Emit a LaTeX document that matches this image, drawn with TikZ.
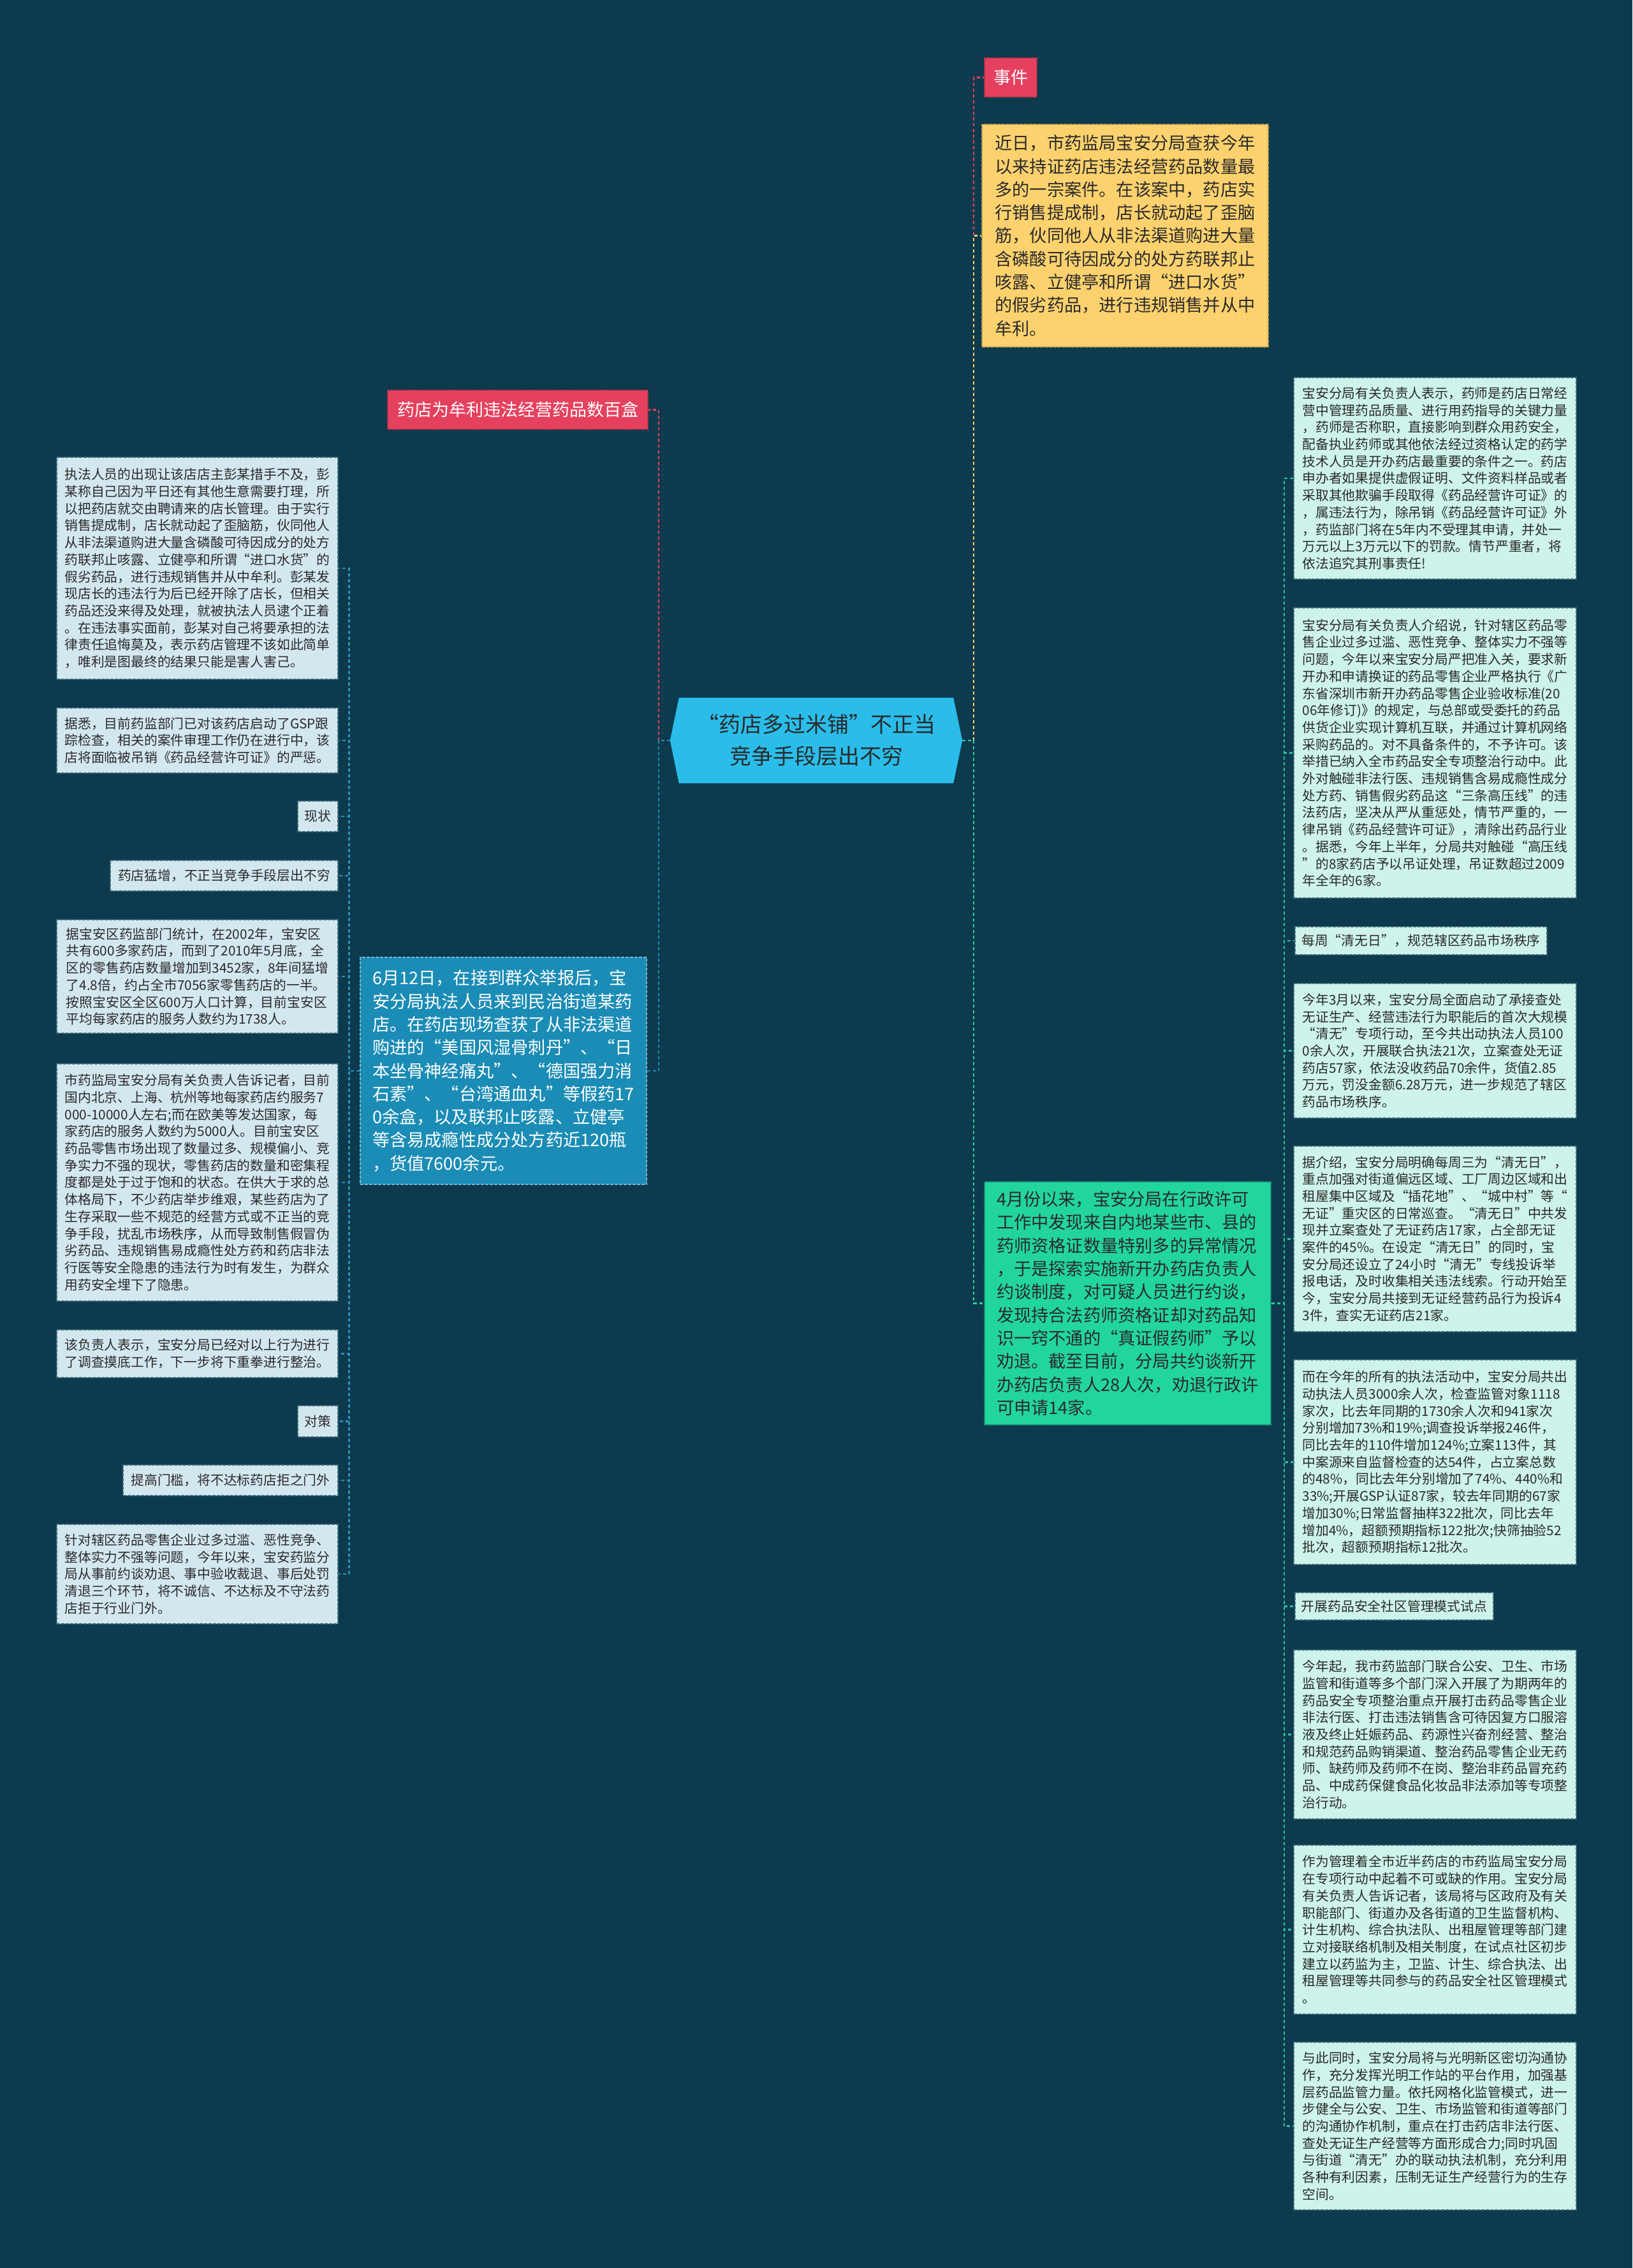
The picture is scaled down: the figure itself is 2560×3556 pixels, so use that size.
\documentclass[tikz,border=0pt]{standalone}
\usepackage{fontspec}
\setmainfont{Noto Sans CJK SC}
\usetikzlibrary{backgrounds}
\definecolor{bgc}{HTML}{0E3A4E}
\definecolor{txt}{HTML}{2A2A2A}
\definecolor{lfill}{HTML}{D3E7EF}
\definecolor{rfill}{HTML}{CDF3EA}
\definecolor{bord}{HTML}{3E6E7E}
\definecolor{redt}{HTML}{E5415E}
\definecolor{yel}{HTML}{FDD26E}
\definecolor{blu}{HTML}{1B8CB5}
\definecolor{grn}{HTML}{22D49E}
\definecolor{cen}{HTML}{2ABDEA}
\definecolor{lconn}{HTML}{2A93B8}
\definecolor{rconn}{HTML}{25C79A}
\tikzset{
  conn/.style={line width=2.5pt, dash pattern=on 5pt off 4pt},
  sbox/.style={draw=bord, line width=1.5pt, dash pattern=on 5pt off 2pt, text=txt,
     font=\fontsize{20.8}{26.7}\selectfont, align=left, inner sep=0pt},
  lbox/.style={sbox, fill=lfill},
  rbox/.style={sbox, fill=rfill},
  bigbox/.style={line width=1.5pt, dash pattern=on 5pt off 2pt,
     font=\fontsize{27.2}{36.3}\selectfont, align=left, inner sep=0pt},
  tag/.style={fill=redt, draw=redt!80!black, line width=1.5pt, dash pattern=on 5pt off 2pt,
     text=white, font=\fontsize{27}{32}\selectfont, inner sep=0pt},
}
\begin{document}
\begin{tikzpicture}[x=1pt,y=-1pt]
\begin{scope}[on background layer]
\fill[bgc] (0,0) rectangle (2560,3556);
\end{scope}
\useasboundingbox (0,0) rectangle (2560,3556);

% center
\node[text=txt, font=\fontsize{34}{50}\selectfont, align=center, minimum width=458, minimum height=134, inner sep=0pt] (C) at (1280,1161) {“药店多过米铺”不正当\\竞争手段层出不穷};
\begin{scope}[on background layer]
\fill[cen] (C.west) -- ([xshift=14]C.north west) -- ([xshift=-14]C.north east) -- (C.east) -- ([xshift=-14]C.south east) -- ([xshift=14]C.south west) -- cycle;
\end{scope}

% right main
\node[tag, minimum width=82, minimum height=61] (E) at (1585,121.5) {事件};
\node[bigbox, draw=yel!75!black, fill=yel, text=txt, minimum width=449, minimum height=349] (Y) at (1764.5,369.5) {近日，市药监局宝安分局查获今年\\以来持证药店违法经营药品数量最\\多的一宗案件。在该案中，药店实\\行销售提成制，店长就动起了歪脑\\筋，伙同他人从非法渠道购进大量\\含磷酸可待因成分的处方药联邦止\\咳露、立健亭和所谓“进口水货”\\的假劣药品，进行违规销售并从中\\牟利。};
\node[bigbox, draw=grn!70!black, fill=grn, text=txt, minimum width=449, minimum height=381] (G) at (1768.5,2043.5) {4月份以来，宝安分局在行政许可\\工作中发现来自内地某些市、县的\\药师资格证数量特别多的异常情况\\，于是探索实施新开办药店负责人\\约谈制度，对可疑人员进行约谈，\\发现持合法药师资格证却对药品知\\识一窍不通的“真证假药师”予以\\劝退。截至目前，分局共约谈新开\\办药店负责人28人次，劝退行政许\\可申请14家。};

% left main
\node[tag, minimum width=408, minimum height=61] (T) at (812,642.5) {药店为牟利违法经营药品数百盒};
\node[bigbox, draw=blu!60!white, fill=blu, text=white, minimum width=449, minimum height=356] (B) at (789.5,1679) {6月12日，在接到群众举报后，宝\\安分局执法人员来到民治街道某药\\店。在药店现场查获了从非法渠道\\购进的“美国风湿骨刺丹”、“日\\本坐骨神经痛丸”、“德国强力消\\石素”、“台湾通血丸”等假药17\\0余盒，以及联邦止咳露、立健亭\\等含易成瘾性成分处方药近120瓶\\，货值7600余元。};

% left column
\node[lbox, minimum width=441, minimum height=348] (L1) at (309.5,891) {执法人员的出现让该店店主彭某措手不及，彭\\某称自己因为平日还有其他生意需要打理，所\\以把药店就交由聘请来的店长管理。由于实行\\销售提成制，店长就动起了歪脑筋，伙同他人\\从非法渠道购进大量含磷酸可待因成分的处方\\药联邦止咳露、立健亭和所谓“进口水货”的\\假劣药品，进行违规销售并从中牟利。彭某发\\现店长的违法行为后已经开除了店长，但相关\\药品还没来得及处理，就被执法人员逮个正着\\。在违法事实面前，彭某对自己将要承担的法\\律责任追悔莫及，表示药店管理不该如此简单\\，唯利是图最终的结果只能是害人害己。};
\node[lbox, minimum width=441, minimum height=102] (L2) at (309.5,1161) {据悉，目前药监部门已对该药店启动了GSP跟\\踪检查，相关的案件审理工作仍在进行中，该\\店将面临被吊销《药品经营许可证》的严惩。};
\node[lbox, minimum width=63, minimum height=48] (L3) at (498.5,1280) {现状};
\node[lbox, minimum width=357, minimum height=48] (L4) at (351.5,1373) {药店猛增，不正当竞争手段层出不穷};
\node[lbox, minimum width=441, minimum height=178] (L5) at (309.5,1531) {据宝安区药监部门统计，在2002年，宝安区\\共有600多家药店，而到了2010年5月底，全\\区的零售药店数量增加到3452家，8年间猛增\\了4.8倍，约占全市7056家零售药店的一半。\\按照宝安区全区600万人口计算，目前宝安区\\平均每家药店的服务人数约为1738人。};
\node[lbox, minimum width=441, minimum height=372] (L6) at (309.5,1854) {市药监局宝安分局有关负责人告诉记者，目前\\国内北京、上海、杭州等地每家药店约服务7\\000-10000人左右;而在欧美等发达国家，每\\家药店的服务人数约为5000人。目前宝安区\\药品零售市场出现了数量过多、规模偏小、竞\\争实力不强的现状，零售药店的数量和密集程\\度都是处于过于饱和的状态。在供大于求的总\\体格局下，不少药店举步维艰，某些药店为了\\生存采取一些不规范的经营方式或不正当的竞\\争手段，扰乱市场秩序，从而导致制售假冒伪\\劣药品、违规销售易成瘾性处方药和药店非法\\行医等安全隐患的违法行为时有发生，为群众\\用药安全埋下了隐患。};
\node[lbox, minimum width=441, minimum height=75] (L7) at (309.5,2122.5) {该负责人表示，宝安分局已经对以上行为进行\\了调查摸底工作，下一步将下重拳进行整治。};
\node[lbox, minimum width=63, minimum height=49] (L8) at (498.5,2228.5) {对策};
\node[lbox, minimum width=337, minimum height=48] (L9) at (361.5,2321) {提高门槛，将不达标药店拒之门外};
\node[lbox, minimum width=441, minimum height=156] (L10) at (309.5,2468) {针对辖区药品零售企业过多过滥、恶性竞争、\\整体实力不强等问题，今年以来，宝安药监分\\局从事前约谈劝退、事中验收裁退、事后处罚\\清退三个环节，将不诚信、不达标及不守法药\\店拒于行业门外。};

% right column
\node[rbox, minimum width=443, minimum height=316] (R1) at (2250.5,750) {宝安分局有关负责人表示，药师是药店日常经\\营中管理药品质量、进行用药指导的关键力量\\，药师是否称职，直接影响到群众用药安全，\\配备执业药师或其他依法经过资格认定的药学\\技术人员是开办药店最重要的条件之一。药店\\申办者如果提供虚假证明、文件资料样品或者\\采取其他欺骗手段取得《药品经营许可证》的\\，属违法行为，除吊销《药品经营许可证》外\\，药监部门将在5年内不受理其申请，并处一\\万元以上3万元以下的罚款。情节严重者，将\\依法追究其刑事责任!};
\node[rbox, minimum width=443, minimum height=455] (R2) at (2250.5,1180.5) {宝安分局有关负责人介绍说，针对辖区药品零\\售企业过多过滥、恶性竞争、整体实力不强等\\问题，今年以来宝安分局严把准入关，要求新\\开办和申请换证的药品零售企业严格执行《广\\东省深圳市新开办药品零售企业验收标准(20\\06年修订)》的规定，与总部或受委托的药品\\供货企业实现计算机互联，并通过计算机网络\\采购药品的。对不具备条件的，不予许可。该\\举措已纳入全市药品安全专项整治行动中。此\\外对触碰非法行医、违规销售含易成瘾性成分\\处方药、销售假劣药品这“三条高压线”的违\\法药店，坚决从严从重惩处，情节严重的，一\\律吊销《药品经营许可证》，清除出药品行业\\。据悉，今年上半年，分局共对触碰“高压线\\”的8家药店予以吊证处理，吊证数超过2009\\年全年的6家。};
\node[rbox, minimum width=395, minimum height=44] (R3) at (2228.5,1475) {每周“清无日”，规范辖区药品市场秩序};
\node[rbox, minimum width=443, minimum height=211] (R4) at (2250.5,1647.5) {今年3月以来，宝安分局全面启动了承接查处\\无证生产、经营违法行为职能后的首次大规模\\“清无”专项行动，至今共出动执法人员100\\0余人次，开展联合执法21次，立案查处无证\\药店57家，依法没收药品70余件，货值2.85\\万元，罚没金额6.28万元，进一步规范了辖区\\药品市场秩序。};
\node[rbox, minimum width=443, minimum height=291] (R5) at (2250.5,1942.5) {据介绍，宝安分局明确每周三为“清无日”，\\重点加强对街道偏远区域、工厂周边区域和出\\租屋集中区域及“插花地”、“城中村”等“\\无证”重灾区的日常巡查。“清无日”中共发\\现并立案查处了无证药店17家，占全部无证\\案件的45\%。在设定“清无日”的同时，宝\\安分局还设立了24小时“清无”专线投诉举\\报电话，及时收集相关违法线索。行动开始至\\今，宝安分局共接到无证经营药品行为投诉4\\3件，查实无证药店21家。};
\node[rbox, minimum width=443, minimum height=321] (R6) at (2250.5,2292.5) {而在今年的所有的执法活动中，宝安分局共出\\动执法人员3000余人次，检查监管对象1118\\家次，比去年同期的1730余人次和941家次\\分别增加73\%和19\%;调查投诉举报246件，\\同比去年的110件增加124\%;立案113件，其\\中案源来自监督检查的达54件，占立案总数\\的48\%，同比去年分别增加了74\%、440\%和\\33\%;开展GSP认证87家，较去年同期的67家\\增加30\%;日常监督抽样322批次，同比去年\\增加4\%，超额预期指标122批次;快筛抽验52\\批次，超额预期指标12批次。};
\node[rbox, minimum width=311, minimum height=43] (R7) at (2186.5,2518.5) {开展药品安全社区管理模式试点};
\node[rbox, minimum width=443, minimum height=265] (R8) at (2250.5,2719.5) {今年起，我市药监部门联合公安、卫生、市场\\监管和街道等多个部门深入开展了为期两年的\\药品安全专项整治重点开展打击药品零售企业\\非法行医、打击违法销售含可待因复方口服溶\\液及终止妊娠药品、药源性兴奋剂经营、整治\\和规范药品购销渠道、整治药品零售企业无药\\师、缺药师及药师不在岗、整治非药品冒充药\\品、中成药保健食品化妆品非法添加等专项整\\治行动。};
\node[rbox, minimum width=443, minimum height=265] (R9) at (2250.5,3025.5) {作为管理着全市近半药店的市药监局宝安分局\\在专项行动中起着不可或缺的作用。宝安分局\\有关负责人告诉记者，该局将与区政府及有关\\职能部门、街道办及各街道的卫生监督机构、\\计生机构、综合执法队、出租屋管理等部门建\\立对接联络机制及相关制度，在试点社区初步\\建立以药监为主，卫监、计生、综合执法、出\\租屋管理等共同参与的药品安全社区管理模式\\。};
\node[rbox, minimum width=443, minimum height=263] (R10) at (2250.5,3333.5) {与此同时，宝安分局将与光明新区密切沟通协\\作，充分发挥光明工作站的平台作用，加强基\\层药品监管力量。依托网格化监管模式，进一\\步健全与公安、卫生、市场监管和街道等部门\\的沟通协作机制，重点在打击药店非法行医、\\查处无证生产经营等方面形成合力;同时巩固\\与街道“清无”办的联动执法机制，充分利用\\各种有利因素，压制无证生产经营行为的生存\\空间。};

% connectors
\draw[conn, redt] (C.east) -- ++(18,0) |- (E.west);
\draw[conn, yel] (C.east) -- ++(18,0) |- (Y.west);
\draw[conn, grn] (C.east) -- ++(18,0) |- (G.west);
\draw[conn, redt] (C.west) -- ++(-18,0) |- (T.east);
\draw[conn, blu] (C.west) -- ++(-18,0) |- (B.east);
\foreach \n in {L1,L2,L3,L4,L5,L6,L7,L8,L9,L10}
  \draw[conn, lconn] (B.west) -- ++(-17,0) |- (\n.east);
\foreach \n in {R1,R2,R3,R4,R5,R6,R7,R8,R9,R10}
  \draw[conn, rconn] (G.east) -- ++(20,0) |- (\n.west);
\end{tikzpicture}
\end{document}
